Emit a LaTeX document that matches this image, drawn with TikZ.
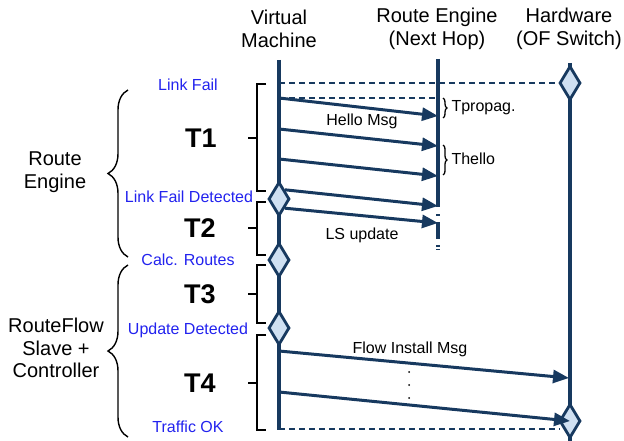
\documentclass[tikz,border=0pt]{standalone}
\usepackage{fontspec}
\setmainfont{Liberation Sans}
\usetikzlibrary{arrows.meta,shapes.geometric,decorations.pathreplacing}
\definecolor{seqline}{HTML}{17395F}
\definecolor{seqfill}{HTML}{CFE0F2}
\definecolor{evtext}{HTML}{2222EE}
\tikzset{
  lifeline/.style={draw=seqline, line width=3.2pt},
  msg/.style={draw=seqline, line width=3pt, -{Triangle[length=16pt,width=13pt]}},
  sync/.style={draw=seqline, line width=1.4pt, dash pattern=on 6pt off 4pt},
  event/.style={diamond, draw=seqline, fill=seqfill, line width=2.8pt, inner sep=0pt, minimum width=21pt, minimum height=34pt},
  head/.style={font=\fontsize{20}{22.5}\selectfont, align=center},
  evlabel/.style={text=evtext, font=\fontsize{16}{18}\selectfont},
  small/.style={font=\fontsize{16}{18}\selectfont},
  phase/.style={font=\fontsize{27}{30}\selectfont\bfseries},
  bracket/.style={draw, line width=1.4pt},
  curly/.style={draw, line width=1.4pt, decorate, decoration={brace, amplitude=20pt}},
  smallcurly/.style={draw, line width=1.3pt, decorate, decoration={brace, amplitude=4pt}}
}
\begin{document}
\begin{tikzpicture}[x=1pt, y=-1pt]
\useasboundingbox (0,0) rectangle (624,441);
\node[head] (vm) at (279,29) {Virtual\\Machine};
\node[head] (re) at (437,29) {Route Engine\\(Next Hop)};
\node[head] (hw) at (569,29) {Hardware\\(OF Switch)};

\coordinate (vmtop) at (279,60);
\coordinate (vmbot) at (279,430);
\coordinate (retop) at (438,59);
\coordinate (rebot) at (438,207);
\coordinate (retail) at (438,214);
\coordinate (reend) at (438,250);
\coordinate (hwtop) at (570,63);
\coordinate (hwbot) at (570,441);
\draw[lifeline] (vmtop) -- (vmbot);
\draw[lifeline] (retop) -- (rebot);
\draw[lifeline, dash pattern=on 2pt off 6pt on 17pt off 6pt on 2pt] (retail) -- (reend);
\draw[lifeline] (hwtop) -- (hwbot);

\node[event] (lf) at (570,83) {};
\node[event] (lfd) at (279,199) {};
\node[event] (cr) at (279,260) {};
\node[event] (ud) at (279,328) {};
\node[event] (ok) at (570,421) {};

\coordinate (m1) at (279,98);
\coordinate (n0) at (438,98);
\coordinate (n1) at (438,116);
\coordinate (m2) at (279,129);
\coordinate (n2) at (438,146);
\coordinate (m3) at (279,159);
\coordinate (n3) at (438,176);
\coordinate (n4) at (438,206);
\coordinate (n5) at (438,223);
\coordinate (f1) at (279,351);
\coordinate (g1) at (569,378);
\coordinate (f2) at (279,392);
\coordinate (vmend) at (279,429);
\coordinate (okin) at (560,429);

\draw[sync] (vmtop |- lf) -- (lf.west);
\draw[sync] (m1) -- (n0);
\draw[sync] (vmend) -- (okin);
\draw[msg] (m1) -- (n1);
\draw[msg] (m2) -- (n2);
\draw[msg] (m3) -- (n3);
\draw[msg] (lfd.north east) -- (n4);
\draw[msg] (lfd.south east) -- (n5);
\draw[msg] (f1) -- (g1);
\draw[msg] (f2) -- (ok.center);

\node[small] (hello) at (362,121) {Hello Msg};
\node[small] (lsup) at (362,235) {LS update};
\node[small] (flow) at (410,349) {Flow Install Msg};
\fill (409,372) circle (1);
\fill (409,385) circle (1);
\fill (409,398) circle (1);

\draw[smallcurly] (443,98) -- (443,118);
\draw[smallcurly] (443,145) -- (443,175);
\node[small, anchor=west] (tprop) at (448,108) {Tpropag.};
\node[small, anchor=west] (thello) at (448,159) {Thello};

\node[evlabel] (lftxt) at (188,85) {Link Fail};
\node[evlabel] (lfdtxt) at (189,197) {Link Fail Detected};
\node[evlabel] (crtxt) at (188,260) {Calc. Routes};
\node[evlabel] (udtxt) at (188,330) {Update Detected};
\node[evlabel] (oktxt) at (188,427) {Traffic OK};

\node[phase] (t1) at (201,138) {T1};
\node[phase] (t2) at (200,228) {T2};
\node[phase] (t3) at (200,294) {T3};
\node[phase] (t4) at (200,383) {T4};
\draw[bracket] (266,84) -- (257,84) -- (257,191) -- (266,191);
\draw[bracket] (257,138) -- (248,138);
\draw[bracket] (266,202) -- (257,202) -- (257,255) -- (266,255);
\draw[bracket] (257,228) -- (248,228);
\draw[bracket] (266,265) -- (257,265) -- (257,323) -- (266,323);
\draw[bracket] (257,294) -- (248,294);
\draw[bracket] (266,335) -- (257,335) -- (257,430) -- (266,430);
\draw[bracket] (257,383) -- (248,383);

\draw[curly] (128,257) -- (128,90);
\draw[curly] (128,437) -- (128,265);
\node[head] (retxt) at (55,172) {Route\\Engine};
\node[head] (rftxt) at (56,348) {RouteFlow\\Slave +\\Controller};
\end{tikzpicture}
\end{document}
